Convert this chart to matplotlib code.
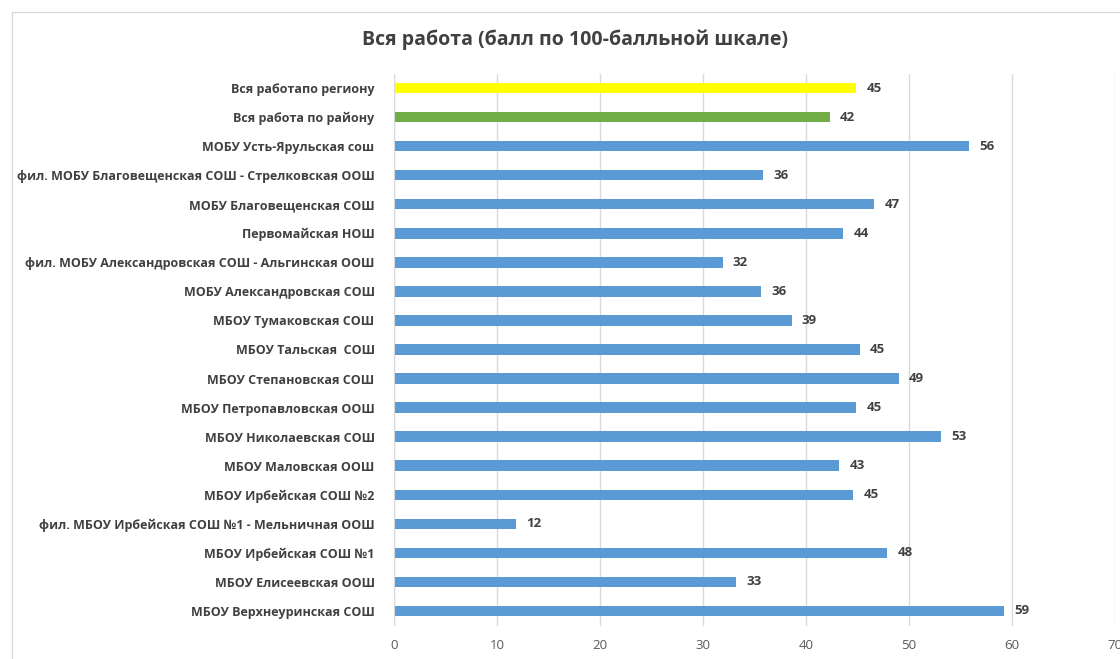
import matplotlib.pyplot as plt
from matplotlib.patches import Rectangle

# top to bottom as in the picture
schools = [
    "Вся работапо региону",
    "Вся работа по району",
    "МОБУ Усть-Ярульская сош",
    "фил. МОБУ Благовещенская СОШ - Стрелковская ООШ",
    "МОБУ Благовещенская СОШ",
    "Первомайская НОШ",
    "фил. МОБУ Александровская СОШ - Альгинская ООШ",
    "МОБУ Александровская СОШ",
    "МБОУ Тумаковская СОШ",
    "МБОУ Тальская  СОШ",
    "МБОУ Степановская СОШ",
    "МБОУ Петропавловская ООШ",
    "МБОУ Николаевская СОШ",
    "МБОУ Маловская ООШ",
    "МБОУ Ирбейская СОШ №2",
    "фил. МБОУ Ирбейская СОШ №1 - Мельничная ООШ",
    "МБОУ Ирбейская СОШ №1",
    "МБОУ Елисеевская ООШ",
    "МБОУ Верхнеуринская СОШ",
]
scores = [44.9, 42.3, 55.8, 35.8, 46.6, 43.6, 31.9, 35.6, 38.6, 45.2,
          49.0, 44.9, 53.1, 43.2, 44.6, 11.8, 47.9, 33.2, 59.2]
bar_colors = ["#FFFF00", "#70AD47"] + ["#5B9BD5"] * 17

plt.rcParams['font.family'] = ['Open Sans', 'DejaVu Sans']

fig = plt.figure(figsize=(11.2, 6.59), dpi=100)
fig.patches.append(Rectangle((12 / 1120, -0.1), 1.2, 1.1 - 12 / 659,
                             transform=fig.transFigure, fill=False,
                             edgecolor="#D9D9D9", linewidth=1))
ax = fig.add_axes([394 / 1120, 1 - 625.5 / 659, (1115 - 394) / 1120, (625.5 - 73.5) / 659])

ys = list(range(len(schools)))[::-1]
ax.barh(ys, scores, height=0.36, color=bar_colors, zorder=2)
for y, v in zip(ys, scores):
    ax.text(v + 1.0, y, str(round(v)), va="center", ha="left",
            fontsize=9.5, fontweight="bold", color="#404040")

ax.set_xlim(0, 70)
ax.set_ylim(-0.5, len(schools) - 0.5)
ax.set_xticks(range(0, 71, 10))
ax.set_yticks(ys)
ax.set_yticklabels(schools, fontsize=9, fontweight="bold", color="#404040")
ax.tick_params(axis="x", colors="#595959", labelsize=9.5, length=0, pad=10)
ax.tick_params(axis="y", length=0, pad=14)
ax.grid(axis="x", color="#D9D9D9", linewidth=1, zorder=0)
for s in ["top", "right", "bottom"]:
    ax.spines[s].set_visible(False)
ax.spines["left"].set_color("#D9D9D9")

fig.text(575 / 1120, 1 - 40 / 659, "Вся работа (балл по 100-балльной шкале)",
         ha="center", va="center", fontsize=14, fontweight="bold", color="#404040")

fig.savefig("out.png", dpi=100)
